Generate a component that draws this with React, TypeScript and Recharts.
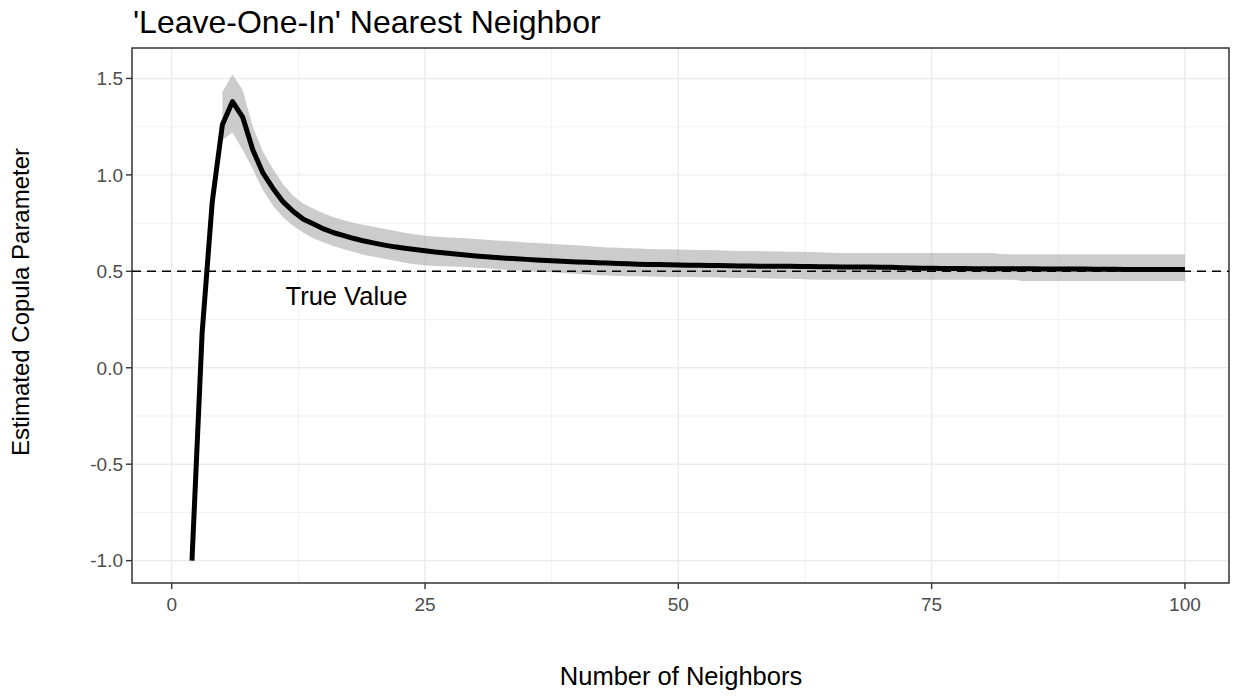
import React from "react";
import {
  ComposedChart,
  Area,
  Line,
  XAxis,
  YAxis,
  CartesianGrid,
  ReferenceLine,
  ReferenceArea,
  ReferenceDot,
} from "recharts";

// Number of neighbors (k = 2 .. 100)
const neighbors: number[] = Array.from({ length: 99 }, (_, i) => i + 2);

// Estimated copula parameter (mean), k = 2 .. 100
const estimate: number[] = [
  -1.0, 0.18, 0.86, 1.26, 1.38, 1.3, 1.13, 1.01, 0.93,
  0.86, 0.81, 0.77, 0.745, 0.72, 0.7, 0.685, 0.67, 0.657, 0.646,
  0.636, 0.627, 0.62, 0.613, 0.607, 0.6, 0.595, 0.59, 0.585, 0.58,
  0.576, 0.572, 0.568, 0.565, 0.562, 0.559, 0.556, 0.553, 0.551, 0.549,
  0.547, 0.545, 0.543, 0.541, 0.539, 0.537, 0.536, 0.535, 0.534, 0.533,
  0.532, 0.531, 0.53, 0.53, 0.529, 0.528, 0.528, 0.527, 0.527, 0.526,
  0.526, 0.525, 0.525, 0.524, 0.524, 0.523, 0.523, 0.522, 0.522, 0.521,
  0.521, 0.519, 0.517, 0.516, 0.516, 0.515, 0.515, 0.515, 0.514, 0.514,
  0.514, 0.513, 0.513, 0.513, 0.513, 0.512, 0.512, 0.512, 0.512, 0.512,
  0.511, 0.511, 0.511, 0.51, 0.51, 0.51, 0.509, 0.509, 0.509, 0.509,
];

// Upper band, k = 2 .. 100 (null where no band)
const upper: (number | null)[] = [
  null, null, null, 1.43, 1.52, 1.44, 1.25, 1.12, 1.03,
  0.95, 0.89, 0.85, 0.825, 0.8, 0.78, 0.765, 0.75, 0.74, 0.73,
  0.72, 0.71, 0.7, 0.692, 0.685, 0.68, 0.677, 0.674, 0.671, 0.668,
  0.664, 0.66, 0.657, 0.653, 0.65, 0.647, 0.644, 0.641, 0.638, 0.635,
  0.631, 0.627, 0.624, 0.622, 0.62, 0.618, 0.616, 0.615, 0.614, 0.613,
  0.612, 0.611, 0.61, 0.609, 0.607, 0.606, 0.605, 0.605, 0.604, 0.603,
  0.602, 0.601, 0.6, 0.599, 0.597, 0.595, 0.595, 0.595, 0.595, 0.595,
  0.595, 0.595, 0.595, 0.595, 0.595, 0.595, 0.595, 0.595, 0.595, 0.595,
  0.595, 0.588, 0.588, 0.588, 0.588, 0.588, 0.588, 0.588, 0.588, 0.588,
  0.588, 0.588, 0.588, 0.588, 0.588, 0.588, 0.588, 0.588, 0.588, 0.588,
];

// Lower band, k = 2 .. 100
const lower: (number | null)[] = [
  null, null, null, 1.18, 1.22, 1.13, 1.03, 0.92, 0.84,
  0.78, 0.735, 0.7, 0.67, 0.65, 0.63, 0.615, 0.6, 0.585, 0.575,
  0.565, 0.555, 0.545, 0.537, 0.531, 0.528, 0.526, 0.524, 0.522, 0.519,
  0.516, 0.512, 0.508, 0.505, 0.502, 0.499, 0.497, 0.494, 0.49, 0.486,
  0.483, 0.48, 0.478, 0.476, 0.475, 0.474, 0.473, 0.472, 0.471, 0.47,
  0.47, 0.469, 0.469, 0.468, 0.467, 0.466, 0.465, 0.464, 0.463, 0.462,
  0.461, 0.46, 0.458, 0.457, 0.457, 0.457, 0.457, 0.457, 0.457, 0.457,
  0.457, 0.457, 0.457, 0.457, 0.457, 0.457, 0.457, 0.457, 0.457, 0.457,
  0.457, 0.457, 0.457, 0.45, 0.45, 0.45, 0.45, 0.45, 0.45, 0.45,
  0.45, 0.45, 0.45, 0.45, 0.45, 0.45, 0.45, 0.45, 0.45, 0.45,
];

const xTicks: number[] = [0, 25, 50, 75, 100];
const xMinor: number[] = [12.5, 37.5, 62.5, 87.5];
const yTicks: number[] = [-1.0, -0.5, 0.0, 0.5, 1.0, 1.5];
const yMinor: number[] = [-0.75, -0.25, 0.25, 0.75, 1.25];
const trueValue = 0.5;

const titleText = "'Leave-One-In' Nearest Neighbor";
const xTitle = "Number of Neighbors";
const yTitle = "Estimated Copula Parameter";
const annotationText = "True Value";

const X_DOMAIN: [number, number] = [-3.92, 104.35];
const Y_DOMAIN: [number, number] = [-1.116, 1.658];

const data = neighbors.map((k, i) => ({
  k,
  est: estimate[i],
  band: upper[i] == null || lower[i] == null ? null : [lower[i], upper[i]],
}));

const FONT = "'Liberation Sans', Arial, Helvetica, sans-serif";

export default function App() {
  return (
    <div
      style={{
        position: "absolute",
        left: 0,
        top: 0,
        width: 1233,
        height: 696,
        background: "#ffffff",
        fontFamily: FONT,
      }}
    >
      <ComposedChart
        width={1233}
        height={696}
        data={data}
        margin={{ top: 48, right: 4, bottom: 83, left: 72 }}
        style={{ fontFamily: FONT }}
      >
        <CartesianGrid
          stroke="#EBEBEB"
          strokeWidth={0.7}
          horizontalValues={yMinor}
          verticalValues={xMinor}
        />
        <CartesianGrid
          stroke="#EBEBEB"
          strokeWidth={1.4}
          horizontalValues={yTicks}
          verticalValues={xTicks}
        />
        <XAxis
          type="number"
          dataKey="k"
          domain={X_DOMAIN}
          ticks={xTicks}
          allowDataOverflow
          axisLine={false}
          tickSize={6}
          tickMargin={9}
          height={30}
          tickLine={{ stroke: "#333333", strokeWidth: 1.4 }}
          tick={{ fill: "#4D4D4D", fontSize: 19, fontFamily: FONT }}
        />
        <YAxis
          type="number"
          domain={Y_DOMAIN}
          ticks={yTicks}
          allowDataOverflow
          axisLine={false}
          width={60}
          tickSize={6}
          tickMargin={3}
          tickFormatter={(v: number) => v.toFixed(1)}
          tickLine={{ stroke: "#333333", strokeWidth: 1.4 }}
          tick={{ fill: "#4D4D4D", fontSize: 19, fontFamily: FONT }}
        />
        <Area
          type="linear"
          dataKey="band"
          stroke="none"
          fill="#999999"
          fillOpacity={0.5}
          connectNulls={false}
          isAnimationActive={false}
          activeDot={false}
        />
        <ReferenceLine
          y={trueValue}
          stroke="#000000"
          strokeWidth={1.5}
          strokeDasharray="9 6"
        />
        <Line
          type="linear"
          dataKey="est"
          stroke="#000000"
          strokeWidth={5}
          strokeLinejoin="round"
          dot={false}
          activeDot={false}
          isAnimationActive={false}
        />
        <ReferenceDot
          x={17.25}
          y={0.37}
          r={0}
          fill="none"
          stroke="none"
          label={{
            value: annotationText,
            position: "center",
            fill: "#000000",
            fontSize: 25.5,
            fontFamily: FONT,
          }}
        />
        <ReferenceArea
          x1={X_DOMAIN[0]}
          x2={X_DOMAIN[1]}
          y1={Y_DOMAIN[0]}
          y2={Y_DOMAIN[1]}
          fill="none"
          stroke="#333333"
          strokeWidth={1.5}
          ifOverflow="visible"
        />
      </ComposedChart>
      <div
        style={{
          position: "absolute",
          left: 133,
          top: 3,
          fontSize: 32,
          color: "#000",
          whiteSpace: "nowrap",
          lineHeight: "38px",
        }}
      >
        {titleText}
      </div>
      <div
        style={{
          position: "absolute",
          left: 381,
          width: 600,
          top: 660,
          textAlign: "center",
          fontSize: 25.5,
          color: "#000",
          lineHeight: "32px",
        }}
      >
        {xTitle}
      </div>
      <div
        style={{
          position: "absolute",
          left: 21 - 300,
          top: 302 - 16,
          width: 600,
          height: 32,
          textAlign: "center",
          fontSize: 24,
          color: "#000",
          lineHeight: "32px",
          transform: "rotate(-90deg)",
          transformOrigin: "50% 50%",
        }}
      >
        {yTitle}
      </div>
    </div>
  );
}
